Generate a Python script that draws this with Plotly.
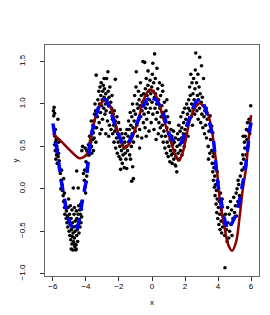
import plotly.graph_objects as go

# ---- scatter data ----
pts = [
# cluster x -6.0..-5.6
(-5.97,0.92),(-5.93,0.96),(-5.90,0.89),(-5.95,0.86),(-5.70,0.82),(-5.88,0.62),(-5.84,0.55),(-5.80,0.58),(-5.76,0.50),(-5.86,0.45),
(-5.78,0.40),(-5.72,0.46),(-5.82,0.35),(-5.68,0.38),(-5.74,0.30),(-5.66,0.42),(-5.90,0.52),(-5.62,0.33),(-5.85,0.70),(-5.65,0.55),
# x -5.6..-5.2
(-5.60,0.25),(-5.55,0.18),(-5.50,0.10),(-5.45,0.05),(-5.42,-0.02),(-5.52,0.00),(-5.38,-0.08),(-5.35,0.12),(-5.48,0.22),(-5.30,-0.05),
# V cluster
(-5.35,-0.15),(-5.30,-0.22),(-5.28,-0.30),(-5.25,-0.18),(-5.20,-0.35),(-5.18,-0.26),(-5.15,-0.40),(-5.12,-0.32),(-5.10,-0.45),(-5.08,-0.22),
(-5.05,-0.38),(-5.02,-0.50),(-5.00,-0.30),(-4.98,-0.55),(-4.95,-0.42),(-4.92,-0.60),(-4.90,-0.35),(-4.88,-0.48),(-4.85,-0.65),(-4.84,-0.56),
(-4.82,-0.40),(-4.80,-0.72),(-4.78,-0.52),(-4.76,-0.62),(-4.75,-0.45),(-4.72,-0.30),(-4.70,-0.58),(-4.68,-0.68),(-4.66,-0.50),(-4.65,-0.38),
(-4.62,-0.72),(-4.60,-0.44),(-4.58,-0.26),(-4.56,-0.55),(-4.55,-0.35),(-4.52,-0.48),(-4.50,-0.62),(-4.48,-0.30),(-4.46,-0.42),(-4.44,-0.20),
(-4.42,-0.52),(-4.40,-0.36),(-4.38,-0.25),(-4.36,-0.45),(-4.34,-0.30),(-4.32,-0.18),(-4.30,-0.40),(-4.28,-0.24),(-4.26,-0.33),(-4.24,-0.15),
(-4.85,-0.25),(-4.95,-0.20),(-5.05,-0.12),(-4.70,-0.22),(-4.60,-0.66),(-4.89,-0.71),(-4.59,-0.71),(-4.69,-0.65),
(-4.47,0.01),(-4.77,0.01),(-4.56,0.21),
# x -4.3..-3.9
(-4.15,0.18),(-4.10,0.10),(-4.05,0.02),(-4.02,-0.05),(-3.98,0.08),(-3.95,0.15),(-4.08,0.22),(-3.92,0.25),(-3.90,0.30),(-4.00,0.32),
(-3.88,0.40),(-3.95,0.45),(-4.05,0.48),(-4.20,0.50),(-4.25,0.45),(-3.85,0.52),
# x -3.9..-3.4
(-3.80,0.40),(-3.75,0.48),(-3.72,0.55),(-3.70,0.62),(-3.66,0.50),(-3.62,0.68),(-3.60,0.58),(-3.58,0.75),(-3.55,0.66),(-3.52,0.80),
(-3.50,0.60),(-3.48,0.88),(-3.45,0.72),(-3.42,0.92),(-3.40,0.55),(-3.65,0.42),(-3.78,0.62),(-3.55,0.45),(-3.68,0.80),(-3.45,1.00),
# x -3.4..-2.4
(-3.38,1.34),(-3.30,0.85),(-3.28,1.05),(-3.25,0.95),(-3.22,1.15),(-3.20,0.78),(-3.18,1.00),(-3.15,1.20),(-3.12,0.90),(-3.10,1.10),
(-3.08,1.25),(-3.05,0.98),(-3.02,1.05),(-3.00,0.82),(-2.98,1.15),(-2.95,1.22),(-2.92,0.95),(-2.90,1.08),(-2.88,1.18),(-2.85,0.88),
(-2.82,1.00),(-2.80,1.12),(-2.78,0.92),(-2.75,1.30),(-2.72,1.05),(-2.70,0.80),(-2.67,1.38),(-2.65,1.15),(-2.62,0.98),(-2.60,1.08),
(-2.58,0.75),(-2.55,1.20),(-2.52,0.90),(-2.50,1.02),(-2.48,0.70),(-2.45,0.95),(-2.42,1.10),(-2.40,0.82),(-3.35,0.72),(-3.05,0.70),
(-2.80,0.65),(-2.62,0.62),(-2.22,1.29),(-2.90,1.30),(-3.15,0.65),
# x -2.4..-1.5
(-2.38,0.65),(-2.35,0.88),(-2.32,0.75),(-2.30,0.55),(-2.28,0.92),(-2.25,0.68),(-2.22,0.80),(-2.20,0.48),(-2.18,0.72),(-2.15,0.60),
(-2.12,0.85),(-2.10,0.42),(-2.08,0.65),(-2.05,0.55),(-2.02,0.78),(-2.00,0.38),(-1.98,0.62),(-1.95,0.50),(-1.92,0.70),(-1.90,0.35),
(-1.88,0.58),(-1.85,0.45),(-1.82,0.65),(-1.80,0.30),(-1.78,0.52),(-1.75,0.40),(-1.72,0.60),(-1.70,0.48),(-1.68,0.25),(-1.65,0.55),
(-1.62,0.42),(-1.60,0.65),(-1.58,0.35),(-1.55,0.50),(-1.52,0.70),
(-1.90,0.23),(-1.53,0.24),(-1.17,0.26),(-1.23,0.09),(-1.13,0.12),(1.44,0.27),(1.50,0.20),
# x -1.5..-0.5
(-1.48,0.45),(-1.45,0.62),(-1.42,0.80),(-1.40,0.55),(-1.38,0.70),(-1.35,0.40),(-1.32,0.90),(-1.30,0.60),(-1.28,0.75),(-1.25,0.50),
(-1.22,0.85),(-1.20,0.65),(-1.18,1.00),(-1.15,0.72),(-1.12,0.55),(-1.10,0.92),(-1.08,0.80),(-1.05,1.10),(-1.02,0.68),(-1.00,0.88),
(-0.97,1.20),(-0.95,1.38),(-0.92,0.75),(-0.90,1.00),(-0.88,0.62),(-0.85,0.95),(-0.82,1.15),(-0.80,0.82),(-0.78,1.05),(-0.75,0.70),
(-0.72,0.98),(-0.70,1.25),(-0.68,0.85),(-0.65,1.10),(-0.62,0.60),(-0.60,0.92),(-0.58,1.02),(-0.55,1.50),(-0.52,0.78),(-0.50,1.12),
(-1.30,0.35),(-0.75,0.48),
# x -0.5..0.5
(-0.48,0.88),(-0.45,1.05),(-0.44,1.49),(-0.42,0.72),(-0.40,1.18),(-0.38,0.95),(-0.35,1.30),(-0.32,0.82),(-0.30,1.10),(-0.28,1.00),
(-0.25,1.22),(-0.24,1.39),(-0.22,0.90),(-0.20,1.15),(-0.18,0.68),(-0.15,1.05),(-0.12,1.28),(-0.10,0.95),(-0.08,1.12),(-0.05,0.78),
(-0.02,1.20),(0.00,1.02),(0.02,1.35),(0.05,0.88),(0.08,1.15),(0.10,1.25),(0.12,0.70),(0.15,1.08),(0.16,1.59),(0.18,0.95),
(0.20,1.30),(0.22,1.12),(0.25,0.82),(0.28,1.00),(0.30,1.42),(0.32,0.90),(0.35,1.18),(0.38,0.65),(0.40,1.05),(0.42,0.78),
(0.45,1.25),(0.48,0.95),(0.50,0.72),(-0.35,0.62),(0.05,1.48),(0.25,0.58),
# x 0.5..1.5
(0.52,1.10),(0.55,0.85),(0.58,0.62),(0.60,0.98),(0.62,0.75),(0.65,1.15),(0.68,0.55),(0.70,0.90),(0.72,0.68),(0.75,1.02),
(0.78,0.48),(0.80,0.80),(0.82,0.62),(0.85,0.92),(0.88,0.42),(0.90,0.72),(0.92,0.55),(0.95,0.85),(0.98,0.38),(1.00,0.65),
(1.02,0.50),(1.05,0.78),(1.08,0.32),(1.10,0.58),(1.12,0.45),(1.15,0.70),(1.18,0.40),(1.20,0.62),(1.22,0.30),(1.25,0.52),
(1.28,0.42),(1.30,0.68),(1.32,0.35),(1.35,0.55),(1.38,0.45),(1.40,0.28),(1.42,0.60),(1.45,0.38),(0.62,1.22),(0.90,1.05),
# x 1.5..2.2
(1.52,0.50),(1.55,0.65),(1.58,0.42),(1.60,0.58),(1.62,0.75),(1.65,0.35),(1.68,0.52),(1.70,0.68),(1.72,0.45),(1.75,0.85),
(1.78,0.60),(1.80,0.72),(1.82,0.40),(1.85,0.55),(1.88,0.90),(1.90,0.65),(1.92,0.78),(1.95,0.50),(1.98,0.95),(2.00,0.70),
(2.02,0.58),(2.05,0.82),(2.08,0.65),(2.10,1.00),(2.12,0.75),(2.15,0.88),(2.18,0.62),(2.20,0.95),
# x 2.2..3.2
(2.22,1.05),(2.25,0.80),(2.28,1.20),(2.30,0.92),(2.32,1.10),(2.35,1.35),(2.38,0.85),(2.40,1.00),(2.42,1.25),(2.45,0.75),
(2.48,1.12),(2.50,0.95),(2.52,1.30),(2.55,1.05),(2.58,0.88),(2.60,1.18),(2.62,1.40),(2.65,1.60),(2.68,1.00),(2.70,1.25),
(2.72,0.92),(2.75,1.10),(2.78,1.35),(2.80,0.82),(2.82,1.05),(2.85,1.20),(2.88,0.95),(2.89,1.55),(2.92,1.12),(2.95,0.78),
(2.98,1.02),(3.00,1.45),(3.02,0.88),(3.05,1.08),(3.08,0.72),(3.10,0.98),(3.12,1.30),(3.15,0.85),(3.18,0.65),(3.20,0.92),
# x 3.2..3.6
(3.25,0.75),(3.30,0.60),(3.35,0.82),(3.40,0.50),(3.45,0.68),(3.50,0.42),(3.55,0.58),(3.52,0.86),(3.28,0.95),(3.42,0.35),
# x 3.6..4.3
(3.62,0.45),(3.65,0.30),(3.68,0.20),(3.70,0.38),(3.72,0.10),(3.75,0.25),(3.78,0.02),(3.80,0.15),(3.82,-0.08),(3.85,0.05),
(3.88,-0.18),(3.90,-0.02),(3.92,-0.28),(3.95,-0.12),(3.98,-0.35),(4.00,0.08),(4.02,-0.22),(4.05,-0.42),(4.08,-0.15),(4.10,-0.30),
(4.12,-0.48),(4.15,-0.05),(4.18,-0.38),(4.20,-0.25),(4.22,-0.52),(4.25,-0.12),(4.28,-0.45),(4.30,-0.32),(3.75,0.42),(3.95,0.20),
(3.62,0.74),(3.68,0.66),
# x 4.3..5.0
(4.35,-0.40),(4.40,-0.55),(4.45,-0.30),(4.50,-0.48),(4.55,-0.62),(4.58,-0.22),(4.60,-0.40),(4.65,-0.58),(4.68,-0.30),(4.70,-0.50),
(4.75,-0.15),(4.78,-0.42),(4.82,-0.25),(4.85,-0.55),(4.90,-0.35),(4.95,-0.10),(5.00,-0.28),(4.42,-0.93),
# x 5.0..6.0
(5.05,-0.20),(5.10,-0.05),(5.12,-0.32),(5.15,0.00),(5.20,-0.15),(5.22,0.10),(5.25,0.05),(5.30,-0.08),(5.35,0.15),(5.40,0.30),
(5.45,0.22),(5.50,0.40),(5.55,0.35),(5.60,0.55),(5.62,0.48),(5.65,0.62),(5.70,0.40),(5.72,0.70),(5.75,0.58),(5.78,0.78),
(5.80,0.50),(5.85,0.68),(5.88,0.82),(5.92,0.65),(5.98,0.98),(5.52,0.62),(5.58,0.25),
]
point_x = [p[0] for p in pts]
point_y = [p[1] for p in pts]

# ---- dark red smooth fit ----
red_x = [-6.0,-5.5,-4.89,-4.38,-3.98,-3.68,-3.38,-3.07,-2.87,-2.56,-2.26,-1.96,-1.65,-1.35,-1.05,-0.75,-0.55,-0.14,0.26,0.67,1.07,1.37,1.62,1.88,2.28,2.59,2.89,3.29,3.6,3.8,3.94,4.1,4.4,4.6,4.85,5.1,5.3,5.5,5.7,5.82,6.0]
red_y = [0.65,0.56,0.44,0.36,0.40,0.64,0.87,1.01,1.04,0.99,0.80,0.60,0.48,0.54,0.68,0.87,1.03,1.17,1.09,0.84,0.60,0.42,0.33,0.44,0.80,0.95,1.01,0.93,0.72,0.44,0.21,-0.12,-0.46,-0.65,-0.73,-0.62,-0.34,0.00,0.25,0.52,0.87]

# ---- blue dashed fit ----
blue_x = [-6.0,-5.85,-5.7,-5.5,-5.3,-5.1,-4.9,-4.6,-4.4,-4.2,-4.0,-3.85,-3.68,-3.43,-3.17,-2.87,-2.56,-2.2,-1.94,-1.75,-1.5,-1.23,-0.85,-0.55,-0.4,-0.24,-0.05,0.16,0.56,0.77,1.07,1.4,1.68,1.88,2.28,2.69,2.99,3.39,3.7,3.86,4.0,4.22,4.45,4.62,4.85,5.13,5.44,5.64,5.8,5.94,6.0]
blue_y = [0.77,0.58,0.38,0.10,-0.12,-0.32,-0.43,-0.50,-0.35,-0.12,0.08,0.35,0.62,0.83,0.99,1.06,0.95,0.72,0.60,0.52,0.53,0.62,0.80,0.96,1.02,1.06,1.01,1.06,0.95,0.84,0.64,0.54,0.52,0.60,0.84,1.03,1.05,0.84,0.60,0.29,0.04,-0.18,-0.40,-0.48,-0.40,-0.28,0.01,0.23,0.48,0.72,0.78]

x_ticks = [-6, -4, -2, 0, 2, 4, 6]
y_ticks = [-1.0, -0.5, 0.0, 0.5, 1.0, 1.5]

fig = go.Figure()
fig.add_trace(go.Scatter(x=point_x, y=point_y, mode="markers",
                         marker=dict(color="black", size=3.6, line=dict(width=0))))
fig.add_trace(go.Scatter(x=red_x, y=red_y, mode="lines",
                         line=dict(color="#8B0000", width=2.5, shape="spline", smoothing=0.8)))
fig.add_trace(go.Scatter(x=blue_x, y=blue_y, mode="lines",
                         line=dict(color="#0000FF", width=3.5, dash="11px,8px", shape="spline", smoothing=0.8)))

font = dict(family="Liberation Sans, Arial, sans-serif", size=8, color="black")
fig.update_layout(
    width=270, height=315,
    margin=dict(l=37, r=19, t=37, b=47, autoexpand=False),
    paper_bgcolor="white", plot_bgcolor="white",
    showlegend=False,
    font=font,
    xaxis=dict(range=[-6.48, 6.48], tickvals=x_ticks,
               ticktext=[("\u2212" + str(-v)) if v < 0 else str(v) for v in x_ticks],
               ticks="outside", ticklen=4, tickcolor="#333", showgrid=False, zeroline=False,
               showline=True, mirror=True, linecolor="#666", linewidth=1, automargin=False,
               ticklabelstandoff=-2,
               title=dict(text="x", font=font, standoff=9)),
    yaxis=dict(range=[-1.027, 1.695], tickvals=y_ticks, tickformat=".1f", tickangle=-90,
               ticks="outside", ticklen=4, tickcolor="#333", showgrid=False, zeroline=False,
               showline=True, mirror=True, linecolor="#666", linewidth=1, automargin=False,
               ticklabelstandoff=12),
    annotations=[dict(text="y", xref="paper", yref="paper", x=-0.14, y=0.5,
                      xanchor="center", yanchor="middle", textangle=-90,
                      showarrow=False, font=font)],
)
fig.write_html("out.html")
